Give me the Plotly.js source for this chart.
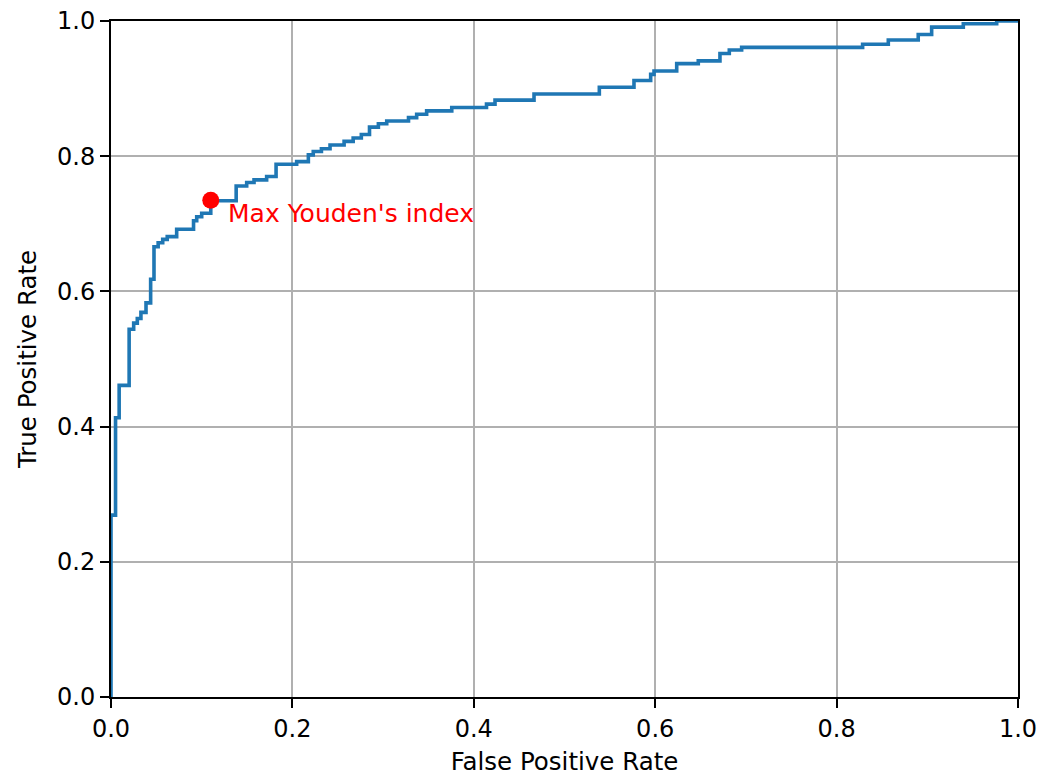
<!DOCTYPE html>
<html>
<head>
<meta charset="utf-8">
<script src="https://cdn.plot.ly/plotly-3.0.1.min.js"></script>
<style>html,body{margin:0;padding:0;background:#fff;}#chart{width:1043px;height:780px;}</style>
</head>
<body>
<div id="chart"></div>
<script>
const fpr = [0, 0, 0.005, 0.009, 0.020, 0.025, 0.029, 0.033, 0.0386, 0.0437, 0.0474, 0.052, 0.057, 0.062, 0.0724, 0.091, 0.0945, 0.100, 0.110, 0.138, 0.1496, 0.1577, 0.1716, 0.182, 0.2047, 0.2176, 0.223, 0.232, 0.2415, 0.257, 0.267, 0.276, 0.285, 0.2948, 0.304, 0.328, 0.337, 0.348, 0.3757, 0.414, 0.4234, 0.4664, 0.5384, 0.5766, 0.595, 0.5987, 0.6237, 0.6475, 0.6714, 0.6817, 0.6953, 0.8287, 0.857, 0.890, 0.9048, 0.9397, 0.9765, 1.0];
const tpr = [0, 0.269, 0.413, 0.461, 0.544, 0.553, 0.560, 0.569, 0.583, 0.618, 0.666, 0.672, 0.677, 0.681, 0.692, 0.7046, 0.7105, 0.7155, 0.734, 0.756, 0.761, 0.765, 0.770, 0.788, 0.792, 0.802, 0.807, 0.811, 0.8166, 0.822, 0.827, 0.832, 0.843, 0.848, 0.852, 0.857, 0.862, 0.867, 0.872, 0.877, 0.883, 0.892, 0.902, 0.912, 0.921, 0.926, 0.937, 0.941, 0.952, 0.957, 0.961, 0.9656, 0.972, 0.980, 0.991, 0.996, 1.0, 1.0];
const youdenFpr = [0.110];
const youdenTpr = [0.735];
const youdenLabel = "Max Youden's index";
const tickVals = [0, 0.2, 0.4, 0.6, 0.8, 1.0];
const tickText = ["0.0", "0.2", "0.4", "0.6", "0.8", "1.0"];

const tickFont = {family: "DejaVu Sans, sans-serif", size: 24, color: "#000"};
const labelFont = {family: "DejaVu Sans, sans-serif", size: 24.5, color: "#000"};

const traces = [
  {x: fpr, y: tpr, type: "scatter", mode: "lines", line: {color: "#1f77b4", width: 3.6, shape: "hv"}, hoverinfo: "skip"},
  {x: youdenFpr, y: youdenTpr, type: "scatter", mode: "markers", marker: {color: "red", size: 17}, cliponaxis: false}
];

const axisCommon = {
  range: [0, 1], tickvals: tickVals, ticktext: tickText,
  showgrid: true, gridcolor: "#b0b0b0", gridwidth: 2,
  showline: true, linecolor: "#000", linewidth: 2, mirror: true,
  ticks: "outside", ticklen: 9, tickwidth: 2, tickcolor: "#000",
  zeroline: false, tickfont: tickFont, fixedrange: true
};

const layout = {
  width: 1043, height: 780,
  margin: {l: 111, r: 25, t: 21, b: 83},
  paper_bgcolor: "#fff", plot_bgcolor: "#fff",
  showlegend: false,
  font: tickFont,
  xaxis: Object.assign({}, axisCommon, {title: {text: "False Positive Rate", font: labelFont, standoff: 11}}),
  yaxis: Object.assign({}, axisCommon, {title: {text: "True Positive Rate", font: labelFont, standoff: 13}}),
  annotations: [{
    x: youdenFpr[0], y: youdenTpr[0], xref: "x", yref: "y",
    text: youdenLabel, showarrow: false, xanchor: "left", yanchor: "middle",
    xshift: 15, yshift: -13, font: {family: "DejaVu Sans, sans-serif", size: 25, color: "red"}
  }]
};

Plotly.newPlot("chart", traces, layout, {displayModeBar: false, staticPlot: true});
</script>
</body>
</html>
